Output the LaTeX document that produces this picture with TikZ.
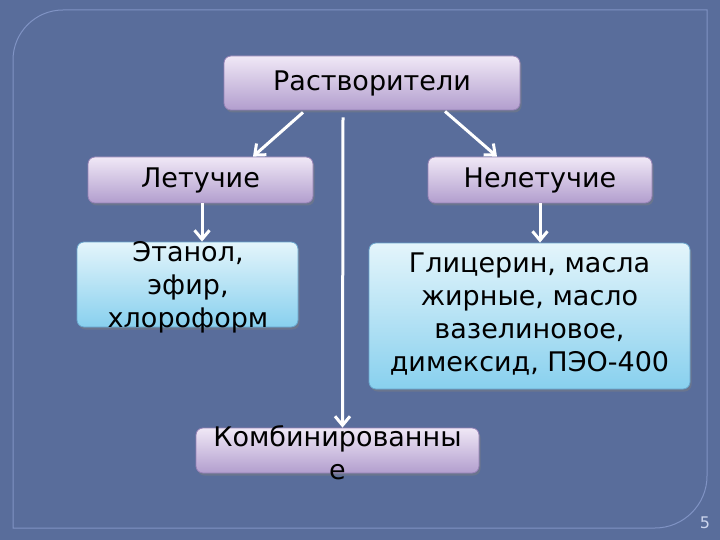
\documentclass[tikz,border=0pt]{standalone}
\usepackage{fontspec}
\setmainfont{DejaVu Sans}
\usetikzlibrary{arrows.meta,shadows}
\definecolor{slidebg}{RGB}{89,109,155}
\definecolor{slideline}{RGB}{128,147,196}
\definecolor{lilactop}{RGB}{240,232,246}
\definecolor{lilacbot}{RGB}{178,158,206}
\definecolor{lilacedge}{RGB}{150,130,182}
\definecolor{skytop}{RGB}{228,245,251}
\definecolor{skybot}{RGB}{136,208,238}
\definecolor{skyedge}{RGB}{105,165,205}
\definecolor{pagenum}{RGB}{205,214,238}

\begin{document}
\begin{tikzpicture}[
  x=1pt, y=-1pt,
  box/.style={rectangle,rounded corners=7pt,draw=lilacedge,line width=0.8pt,top color=lilactop,bottom color=lilacbot,drop shadow={shadow xshift=1.5pt,shadow yshift=-2.5pt,opacity=0.45},inner sep=0pt},
  sbox/.style={box,draw=skyedge,top color=skytop,bottom color=skybot},
  txt/.style={font=\fontsize{27}{33}\selectfont,align=center,text=black},
  arr/.style={draw=white,line width=3pt,-{Straight Barb[length=9pt,width=15pt]}}
]
  \useasboundingbox (0,0) rectangle (720,540);
  \fill[slidebg] (0,0) rectangle (720,540);
  \draw[slideline,line width=1pt] (13,528) -- (13,60) .. controls (13,32.4) and (35.4,10) .. (63,10) -- (707,10) -- (707,476) .. controls (707,504.6) and (683.6,528) .. (655,528) -- cycle;

  \node[box,txt,minimum width=296pt,minimum height=54pt] (r) at (372,83) {Растворители};
  \node[box,txt,minimum width=225pt,minimum height=46pt] (let) at (200.5,180) {Летучие};
  \node[box,txt,minimum width=224pt,minimum height=46pt] (nelet) at (540,180) {Нелетучие};
  \node[sbox,minimum width=221pt,minimum height=85pt] (et) at (187.5,284.5) {};
  \node[txt] (et-t) at (188,287) {Этанол,\\эфир,\\хлороформ};
  \node[sbox,minimum width=321pt,minimum height=146pt] (gl) at (529.5,316) {};
  \node[txt] (gl-t) at (529.5,314) {Глицерин, масла\\жирные, масло\\вазелиновое,\\димексид, ПЭО-400};
  \node[box,minimum width=283pt,minimum height=45pt] (comb) at (337.5,450.5) {};
  \node[txt] (comb-t) at (337.5,453) {Комбинированны\\е};
  \node[font=\fontsize{16}{19}\selectfont,text=pagenum] (pg) at (705,523) {5};

  \draw[arr] ([xshift=-69pt,yshift=-2pt]r.south) -- ([xshift=52.5pt]let.north);
  \draw[arr] ([xshift=73pt,yshift=-1pt]r.south) -- ([xshift=-43pt]nelet.north);
  \draw[arr] ([xshift=-29pt,yshift=-7pt]r.south) -- ([xshift=5pt]comb.north);
  \draw[arr] ([xshift=1.5pt]let.south) -- ([xshift=1.5pt]let.south |- et.north);
  \draw[arr] (nelet.south) -- (nelet.south |- gl.north);
\end{tikzpicture}
\end{document}
